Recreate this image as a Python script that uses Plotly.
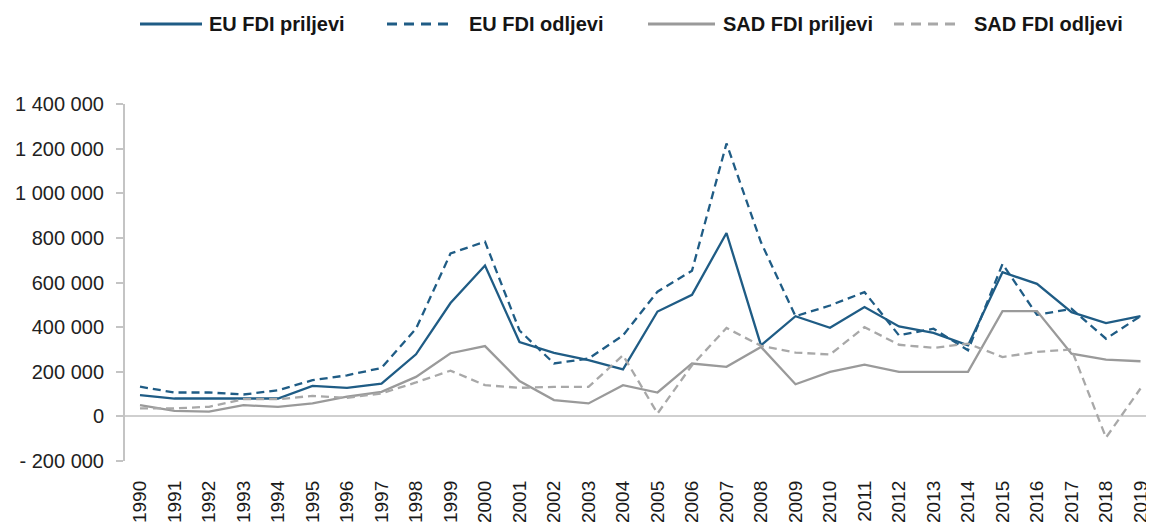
import plotly.graph_objects as go

years = list(range(1990, 2020))
eu_inflows = [95, 80, 80, 80, 80, 137, 128, 147, 278, 508, 676, 333, 285, 252, 211,
              470, 545, 822, 318, 449, 397, 490, 403, 374, 318, 646, 594, 467, 418, 449]
eu_outflows = [133, 107, 107, 98, 117, 162, 184, 217, 393, 730, 783, 385, 237, 259, 363,
               559, 653, 1223, 780, 449, 497, 557, 363, 393, 296, 683, 455, 482, 348, 449]
us_inflows = [50, 25, 21, 50, 43, 58, 88, 110, 177, 283, 315, 158, 73, 58, 140,
              107, 237, 222, 311, 144, 199, 232, 199, 200, 200, 472, 472, 281, 254, 247]
us_outflows = [36, 36, 43, 77, 77, 92, 83, 103, 152, 205, 140, 128, 132, 132, 274,
               13, 229, 396, 316, 286, 277, 400, 321, 307, 326, 266, 289, 300, -95, 125]

series_names = ["EU FDI priljevi", "EU FDI odljevi", "SAD FDI priljevi", "SAD FDI odljevi"]
y_tick_vals = [-200000, 0, 200000, 400000, 600000, 800000, 1000000, 1200000, 1400000]
y_tick_text = ["- 200 000", "0", "200 000", "400 000", "600 000", "800 000",
               "1 000 000", "1 200 000", "1 400 000"]

BLUE = "#1f5c85"
GRAY = "#9a9a9a"
GRAY_D = "#a8a8a8"
DASH = "8px,5px"

OFF = 8  # page body margin
W, H = 1146, 517
L, R, T, B = 117, 0, 96, 64
PW, PH = W - L - R, H - T - B

series = [
    (series_names[0], eu_inflows, BLUE, "solid"),
    (series_names[1], eu_outflows, BLUE, DASH),
    (series_names[2], us_inflows, GRAY, "solid"),
    (series_names[3], us_outflows, GRAY_D, DASH),
]

fig = go.Figure()
for name, vals, col, dash in series:
    fig.add_trace(go.Scatter(
        x=years, y=[v * 1000 for v in vals], mode="lines", name=name,
        line=dict(color=col, width=2.3, dash=dash), showlegend=False,
    ))

x0r = 1990 - 15 / 34.5
x1r = x0r + PW / 34.5
fig.update_layout(
    width=W, height=H,
    margin=dict(l=L, r=R, t=T, b=B),
    paper_bgcolor="white", plot_bgcolor="white",
    xaxis=dict(
        range=[x0r, x1r], tickmode="array", tickvals=years,
        ticktext=[str(y) for y in years], tickangle=-90, showgrid=False,
        zeroline=False, showline=False, ticks="", automargin=False,
        tickfont=dict(family="Liberation Sans, Arial", size=19, color="#1a1a1a"),
        ticklabelstandoff=15,
    ),
    yaxis=dict(
        range=[-200000, 1400000], tickmode="array", tickvals=y_tick_vals,
        ticktext=y_tick_text, showgrid=False, zeroline=True,
        zerolinecolor="#cfcfcf", zerolinewidth=2,
        showline=True, linecolor="#c4c4c4", linewidth=2,
        ticks="outside", ticklen=7, tickcolor="#c4c4c4", tickwidth=1.5,
        automargin=False, ticklabelstandoff=8,
        tickfont=dict(family="Liberation Sans, Arial", size=20, color="#222222"),
    ),
)

# custom legend (page pixel layout converted to paper coordinates)
def px(xp):
    return (xp - OFF - L) / PW

def py(yp):
    return (H - B - (yp - OFF)) / PH

legend_items = [
    (140, 202, 207),
    (387, 453, 467),
    (648, 715, 721),
    (894, 960, 972),
]
ly = 24
for (x0, x1, xt), (name, vals, col, dash) in zip(legend_items, series):
    fig.add_shape(type="line", xref="paper", yref="paper",
                  x0=px(x0), x1=px(x1), y0=py(ly), y1=py(ly),
                  line=dict(color=col, width=3.2,
                            dash="solid" if dash == "solid" else "10px,7px"))
    fig.add_annotation(xref="paper", yref="paper", x=px(xt), y=py(ly),
                       text="<b>" + name + "</b>", showarrow=False,
                       xanchor="left", yanchor="middle",
                       font=dict(family="Liberation Sans, Arial", size=20, color="#151515"))

fig.write_html("out.html")
